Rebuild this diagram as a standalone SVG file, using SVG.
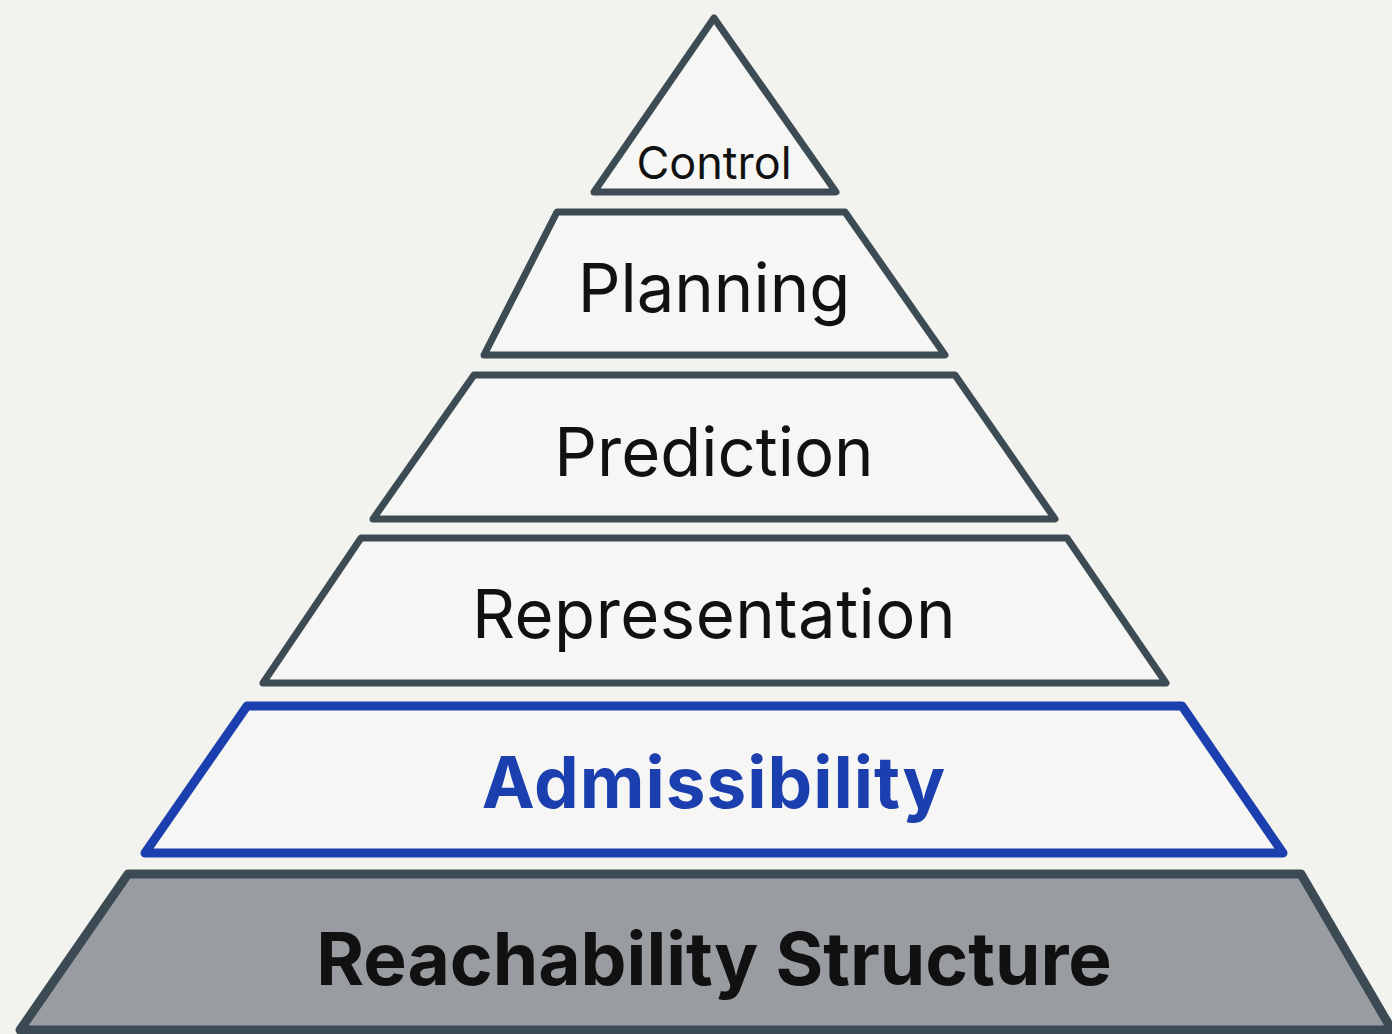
<svg xmlns="http://www.w3.org/2000/svg" width="1392" height="1034" viewBox="0 0 1392 1034">
<style>
.tier{fill:#f6f6f4;stroke:#3d4b54;stroke-width:7;stroke-linejoin:round}
.lbl{font-family:Inter,"Liberation Sans",sans-serif;fill:#111;text-anchor:middle}
</style>
<rect width="1392" height="1034" fill="#f2f2ef"/>
<g id="control"><polygon class="tier" points="714,18 836,192 594,192"/><text class="lbl" x="714" y="179" font-size="45">Control</text></g>
<g id="planning"><polygon class="tier" points="557,212 845,212 945,355 484,355"/><text class="lbl" x="714" y="312" font-size="67">Planning</text></g>
<g id="prediction"><polygon class="tier" points="474,375 955,375 1055,519 373,519"/><text class="lbl" x="714" y="476" font-size="67">Prediction</text></g>
<g id="representation"><polygon class="tier" points="361,538 1067,538 1166,683 263,683"/><text class="lbl" x="714" y="638" font-size="67" letter-spacing="0.5">Representation</text></g>
<g id="admissibility"><polygon class="tier" style="stroke:#1b3fae;stroke-width:9" points="247,706 1182,706 1283,853 145,853"/><text class="lbl" x="714" y="808" font-size="71" font-weight="700" letter-spacing="1" style="fill:#1b3fae">Admissibility</text></g>
<g id="reachability"><polygon class="tier" style="fill:#999da1;stroke:#3b4a53;stroke-width:9" points="128,874 1301,874 1392,1030 20,1030"/><text class="lbl" x="714" y="985" font-size="73" font-weight="700">Reachability Structure</text></g>
<g id="connectors"></g>
</svg>
